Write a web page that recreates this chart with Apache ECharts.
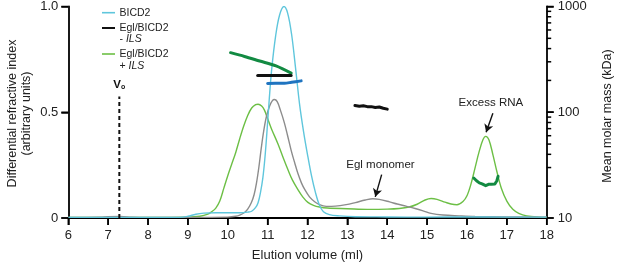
<!DOCTYPE html>
<html>
<head>
<meta charset="utf-8">
<script src="https://cdn.jsdelivr.net/npm/echarts@6/dist/echarts.min.js"></script>
<style>html,body{margin:0;padding:0;background:#fff;}#c{width:617px;height:267px;}</style>
</head>
<body>
<div id="c"></div>
<script>
// ---- data (elution volume ml, value) ----
const xTicks = [6,7,8,9,10,11,12,13,14,15,16,17,18];
const riBICD2 = [[6.0,0.003],[8.8,0.003],[9.0,0.008],[9.2,0.018],[9.4,0.023],[9.7,0.025],[10.0,0.025],[10.3,0.025],[10.5,0.028],[10.6,0.032],[10.7,0.05],[10.76,0.072],[10.82,0.12],[10.88,0.19],[10.93,0.28],[10.98,0.40],[11.04,0.56],[11.1,0.70],[11.2,0.86],[11.3,0.96],[11.41,1.0],[11.5,0.97],[11.6,0.87],[11.7,0.71],[11.8,0.54],[11.9,0.41],[12.0,0.30],[12.1,0.2],[12.2,0.12],[12.3,0.06],[12.4,0.03],[12.55,0.016],[12.8,0.01],[13.2,0.006],[14,0.005],[15,0.004],[16,0.005],[17,0.004],[18,0.004]];
const riEglMinusILS = [[6.0,0.003],[6.8,0.004],[7.0,0.006],[7.3,0.007],[7.6,0.004],[8.0,0.003],[9.0,0.003],[10.0,0.004],[10.2,0.008],[10.3,0.014],[10.42,0.026],[10.5,0.042],[10.59,0.072],[10.66,0.11],[10.72,0.165],[10.78,0.24],[10.84,0.33],[10.9,0.41],[10.97,0.48],[11.05,0.53],[11.12,0.555],[11.17,0.56],[11.24,0.55],[11.32,0.51],[11.42,0.45],[11.5,0.39],[11.59,0.32],[11.68,0.26],[11.76,0.21],[11.85,0.165],[11.93,0.135],[12.05,0.10],[12.18,0.077],[12.3,0.063],[12.47,0.055],[12.7,0.056],[12.97,0.063],[13.2,0.073],[13.45,0.085],[13.64,0.091],[13.8,0.088],[14.06,0.076],[14.25,0.066],[14.47,0.056],[14.7,0.045],[14.9,0.034],[15.1,0.022],[15.4,0.014],[15.8,0.01],[16.2,0.007],[17,0.005],[18,0.004]];
const riEglPlusILS = [[6.0,0.003],[8.0,0.003],[9.0,0.004],[9.3,0.008],[9.5,0.018],[9.6,0.03],[9.7,0.047],[9.8,0.08],[9.9,0.14],[10.0,0.2],[10.1,0.255],[10.2,0.31],[10.3,0.375],[10.4,0.435],[10.5,0.485],[10.6,0.52],[10.7,0.536],[10.76,0.538],[10.85,0.53],[10.92,0.51],[11.0,0.47],[11.1,0.42],[11.26,0.35],[11.4,0.28],[11.51,0.228],[11.62,0.18],[11.76,0.134],[11.88,0.10],[12.01,0.074],[12.15,0.06],[12.3,0.052],[12.5,0.047],[13.0,0.044],[13.5,0.041],[14.0,0.042],[14.3,0.045],[14.55,0.052],[14.75,0.065],[14.95,0.085],[15.1,0.092],[15.25,0.088],[15.45,0.075],[15.6,0.066],[15.75,0.063],[15.9,0.078],[16.0,0.105],[16.1,0.16],[16.2,0.235],[16.3,0.31],[16.4,0.37],[16.47,0.386],[16.55,0.37],[16.65,0.30],[16.75,0.22],[16.86,0.142],[17.0,0.08],[17.15,0.041],[17.3,0.022],[17.5,0.01],[17.8,0.004],[18.0,0.003]];
// molar mass (kDa)
const mmBICD2 = [[11.0,187],[11.2,188],[11.42,188],[11.6,192],[11.84,198]];
const mmEglMinusA = [[10.75,223],[11.0,223],[11.3,223],[11.59,223]];
const mmEglMinusB = [[13.19,116],[13.3,114],[13.4,115],[13.5,113],[13.6,113],[13.7,111],[13.8,112],[13.9,109],[14.0,107]];
const mmEglPlusA = [[10.07,366],[10.42,337],[10.8,305],[11.21,274],[11.59,234]];
const mmEglPlusB = [[16.17,23.9],[16.24,22.5],[16.31,21.5],[16.38,21.0],[16.47,20.2],[16.54,20.8],[16.61,20.9],[16.66,21.6],[16.7,21.0],[16.75,22.5],[16.78,24.8]];
const leftTicks = [0,0.5,1.0];
const rightMajorTicks = [10,100,1000];
const minorTickValues = [20,30,40,50,60,70,80,90,200,300,400,500,600,700,800,900];
const v0Line = [[7.28,0],[7.28,0.575]];
const eglArrow = [[13.86,0.205],[13.70,0.10]];
const eglLabelPos = [13.83,0.25];
const rnaArrow = [[16.65,0.495],[16.48,0.405]];
const rnaLabelPos = [16.6,0.545];

const FONT = '"Liberation Sans", Arial, Helvetica, sans-serif';
const C_BLUE = '#5fc6dc', C_GREY = '#8c8c8c', C_GREEN = '#6cbf45';
const C_DKGREEN = '#128a42', C_MMBLUE = '#1f74c0', C_BLACK = '#111';

const chart = echarts.init(document.getElementById('c'), null, {renderer:'canvas'});

function riSeries(name, data, color){
  return {name, type:'line', data, xAxisIndex:0, yAxisIndex:0, smooth:0.35, showSymbol:false, symbol:'none',
    lineStyle:{color, width:1.4}, itemStyle:{color}, animation:false, silent:true, z:3};
}
function mmSeries(name, data, color, smooth){
  return {name, type:'line', data, xAxisIndex:0, yAxisIndex:1, smooth:smooth, showSymbol:false, symbol:'none',
    lineStyle:{color, width:3, cap:'round', join:'round'}, animation:false, silent:true, z:5};
}
function annot(arrow, labelPos, text){
  return {
    markLine:{silent:true, animation:false, symbol:['none','arrow'], symbolSize:[7,8],
      lineStyle:{color:'#111', width:1.4, type:'solid'}, label:{show:false},
      data:[[{coord:arrow[0]},{coord:arrow[1]}]]},
    markPoint:{silent:true, animation:false, symbol:'circle', symbolSize:1, itemStyle:{color:'transparent'},
      label:{show:true, position:'inside', formatter:text, color:'#222', fontSize:11.5, fontFamily:FONT},
      data:[{coord:labelPos}]}
  };
}

const sGrey = riSeries('Egl/BICD2 - ILS', riEglMinusILS, C_GREY);
Object.assign(sGrey, annot(eglArrow, eglLabelPos, 'Egl monomer'));
const sGreen = riSeries('Egl/BICD2 + ILS', riEglPlusILS, C_GREEN);
Object.assign(sGreen, annot(rnaArrow, rnaLabelPos, 'Excess RNA'));
const sV0 = {name:'V0', type:'line', data:v0Line, xAxisIndex:0, yAxisIndex:0, showSymbol:false, symbol:'none',
  animation:false, silent:true, z:4, lineStyle:{color:'#111', width:2, type:[4,3]},
  markPoint:{silent:true, animation:false, symbol:'circle', symbolSize:1, itemStyle:{color:'transparent'},
    label:{show:true, position:'top', distance:5, formatter:'{v|V}{s|o}',
      rich:{v:{fontSize:11.5, fontWeight:'bold', color:'#111', fontFamily:FONT},
            s:{fontSize:7, fontWeight:'bold', color:'#111', fontFamily:FONT, padding:[5,0,0,0]}}},
    data:[{coord:v0Line[1]}]}};

const baseGraphic = [
  {type:'text', x:12.5, y:113.5, rotation:Math.PI/2,
    style:{text:'Differential refractive index', fill:'#222', font:'12.5px ' + FONT, align:'center', verticalAlign:'middle'}},
  {type:'text', x:26.5, y:113.5, rotation:Math.PI/2,
    style:{text:'(arbitrary units)', fill:'#222', font:'12.5px ' + FONT, align:'center', verticalAlign:'middle'}},
  {type:'text', x:607.5, y:116, rotation:Math.PI/2,
    style:{text:'Mean molar mass (kDa)', fill:'#222', font:'12.5px ' + FONT, align:'center', verticalAlign:'middle'}},
  // legend
  {type:'line', shape:{x1:102, y1:12.7, x2:115, y2:12.7}, style:{stroke:C_BLUE, lineWidth:1.6}},
  {type:'text', x:119.5, y:12.7, style:{text:'BICD2', fill:'#222', font:'10.5px ' + FONT, align:'left', verticalAlign:'middle'}},
  {type:'line', shape:{x1:102, y1:28, x2:115, y2:28}, style:{stroke:'#111', lineWidth:2}},
  {type:'text', x:119.5, y:28, style:{text:'Egl/BICD2', fill:'#222', font:'10.5px ' + FONT, align:'left', verticalAlign:'middle'}},
  {type:'text', x:119.5, y:39.5, style:{text:'- {i|ILS}', fill:'#222', font:'10.5px ' + FONT, align:'left', verticalAlign:'middle',
    rich:{i:{fontStyle:'italic', fontSize:10.5, fontFamily:FONT, fill:'#222'}}}},
  {type:'line', shape:{x1:102, y1:54, x2:115, y2:54}, style:{stroke:C_GREEN, lineWidth:1.6}},
  {type:'text', x:119.5, y:54, style:{text:'Egl/BICD2', fill:'#222', font:'10.5px ' + FONT, align:'left', verticalAlign:'middle'}},
  {type:'text', x:119.5, y:66.5, style:{text:'+ {i|ILS}', fill:'#222', font:'10.5px ' + FONT, align:'left', verticalAlign:'middle',
    rich:{i:{fontStyle:'italic', fontSize:10.5, fontFamily:FONT, fill:'#222'}}}}
];

const tickStyle = {show:true, inside:false, length:7, lineStyle:{color:'#000', width:1.5}};
const option = {
  animation:false,
  grid:{left:68.3, right:70.3, top:6, bottom:46.5},
  xAxis:{type:'value', min:6, max:18, interval:1,
    name:'Elution volume (ml)', nameLocation:'middle', nameGap:31,
    nameTextStyle:{color:'#222', fontSize:13, fontFamily:FONT},
    axisLine:{show:true, onZero:false, lineStyle:{color:'#000', width:1.8}},
    axisTick:tickStyle,
    axisLabel:{color:'#222', fontSize:13, fontFamily:FONT, margin:11},
    splitLine:{show:false}},
  yAxis:[
    {type:'value', min:0, max:1, interval:0.5, position:'left',
      axisLine:{show:true, onZero:false, lineStyle:{color:'#000', width:1.8}},
      axisTick:tickStyle,
      axisLabel:{color:'#222', fontSize:13, fontFamily:FONT, margin:10,
        formatter:v => v === 0 ? '0' : v.toFixed(1)},
      splitLine:{show:false}},
    {type:'log', logBase:10, min:10, max:1000, position:'right',
      axisLine:{show:true, onZero:false, lineStyle:{color:'#000', width:1.8}},
      axisTick:tickStyle,
      minorTick:{show:false},
      axisLabel:{color:'#222', fontSize:13, fontFamily:FONT, margin:11, formatter:v => String(Math.round(v))},
      splitLine:{show:false}}
  ],
  series:[
    sGreen,
    sGrey,
    riSeries('BICD2', riBICD2, C_BLUE),
    mmSeries('mm Egl/BICD2 + ILS', mmEglPlusA, C_DKGREEN, 0.3),
    mmSeries('mm Egl/BICD2 - ILS', mmEglMinusA, C_BLACK, false),
    mmSeries('mm BICD2', mmBICD2, C_MMBLUE, 0.3),
    mmSeries('mm Egl/BICD2 - ILS b', mmEglMinusB, C_BLACK, false),
    mmSeries('mm Egl/BICD2 + ILS b', mmEglPlusB, C_DKGREEN, false),
    sV0
  ],
  graphic: baseGraphic
};
chart.setOption(option);

// tick marks: positions come from the chart's own axis scales
const LEFT = {xAxisIndex:0, yAxisIndex:0}, RIGHT = {xAxisIndex:0, yAxisIndex:1};
const tickEls = [];
function addTick(p, dx, dy){
  tickEls.push({type:'line', z:100, silent:true,
    shape:{x1:p[0], y1:p[1], x2:p[0]+dx, y2:p[1]+dy}, style:{stroke:'#000', lineWidth:1.5}});
}
xTicks.forEach(v => addTick(chart.convertToPixel(LEFT, [v, 0]), 0, 7));
leftTicks.forEach(v => addTick(chart.convertToPixel(LEFT, [6, v]), -7, 0));
rightMajorTicks.forEach(v => addTick(chart.convertToPixel(RIGHT, [18, v]), 7, 0));
minorTickValues.forEach(v => addTick(chart.convertToPixel(RIGHT, [18, v]), 4.5, 0));
chart.setOption({graphic: baseGraphic.concat(tickEls)});
</script>
</body>
</html>
